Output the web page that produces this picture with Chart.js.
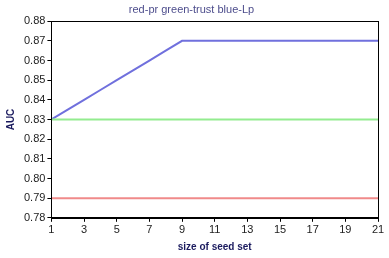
<!DOCTYPE html>
<html>
<head>
<meta charset="utf-8">
<script src="https://cdn.jsdelivr.net/npm/chart.js@4"></script>
<style>
  html, body { margin: 0; padding: 0; background: #fff; }
  #wrap { width: 389px; height: 258px; }
</style>
</head>
<body>
<div id="wrap"><canvas id="myChart" width="389" height="258"></canvas></div>
<script>
const seedSizes = [1,2,3,4,5,6,7,8,9,10,11,12,13,14,15,16,17,18,19,20,21];
const prValues = [0.79,0.79,0.79,0.79,0.79,0.79,0.79,0.79,0.79,0.79,0.79,0.79,0.79,0.79,0.79,0.79,0.79,0.79,0.79,0.79,0.79];
const trustValues = [0.83,0.83,0.83,0.83,0.83,0.83,0.83,0.83,0.83,0.83,0.83,0.83,0.83,0.83,0.83,0.83,0.83,0.83,0.83,0.83,0.83];
const lpValues = [0.830,0.835,0.840,0.845,0.850,0.855,0.860,0.865,0.870,0.870,0.870,0.870,0.870,0.870,0.870,0.870,0.870,0.870,0.870,0.870,0.870];
const xTicks = [1,3,5,7,9,11,13,15,17,19,21];
const yTicks = [0.78,0.79,0.80,0.81,0.82,0.83,0.84,0.85,0.86,0.87,0.88];

const toPoints = vals => seedSizes.map((x, i) => ({x: x, y: vals[i]}));

// black frame round the plot area
const boxPlugin = {
  id: 'box',
  afterDraw(chart) {
    const a = chart.chartArea;
    const c = chart.ctx;
    c.save();
    c.strokeStyle = '#000';
    c.lineWidth = 1;
    c.strokeRect(Math.round(a.left) + 0.5, Math.round(a.top) + 0.5, Math.round(a.right - a.left), Math.round(a.bottom - a.top));
    c.restore();
  }
};

const ctx = document.getElementById('myChart');
new Chart(ctx, {
  type: 'line',
  data: {
    datasets: [
      { label: 'pr', data: toPoints(prValues), borderColor: '#f08a8a', borderWidth: 2, pointRadius: 0, fill: false, tension: 0 },
      { label: 'trust', data: toPoints(trustValues), borderColor: '#93ec8f', borderWidth: 2, pointRadius: 0, fill: false, tension: 0 },
      { label: 'Lp', data: toPoints(lpValues), borderColor: '#7070dd', borderWidth: 2, pointRadius: 0, fill: false, tension: 0 }
    ]
  },
  options: {
    responsive: false,
    animation: false,
    layout: { padding: { left: 5, right: 11, top: 0, bottom: 3 } },
    plugins: {
      legend: { display: false },
      tooltip: { enabled: false },
      title: {
        display: true,
        text: 'red-pr green-trust blue-Lp',
        color: '#4d4d8c',
        font: { family: 'Liberation Sans, Arial', size: 11, weight: 'normal' },
        padding: { top: 3, bottom: 5 }
      }
    },
    scales: {
      x: {
        type: 'linear',
        min: 1, max: 21,
        afterBuildTicks: axis => { axis.ticks = xTicks.map(v => ({value: v})); },
        ticks: { color: '#222', font: { family: 'Liberation Sans, Arial', size: 11 }, padding: 2, maxRotation: 0 },
        grid: { drawOnChartArea: false, drawTicks: true, tickLength: 4, color: '#000' },
        border: { display: true, color: '#000' },
        title: { display: true, text: 'size of seed set', color: '#1a1a5e', font: { family: 'Liberation Sans, Arial', size: 10, weight: 'bold' }, padding: { top: 2, bottom: 2 } }
      },
      y: {
        type: 'linear',
        min: 0.78, max: 0.88,
        afterBuildTicks: axis => { axis.ticks = yTicks.map(v => ({value: v})); },
        ticks: { color: '#222', font: { family: 'Liberation Sans, Arial', size: 11 }, padding: 2, callback: v => v.toFixed(2) },
        grid: { drawOnChartArea: false, drawTicks: true, tickLength: 4, color: '#000' },
        border: { display: true, color: '#000' },
        title: { display: true, text: 'AUC', color: '#1a1a5e', font: { family: 'Liberation Sans, Arial', size: 10, weight: 'bold' }, padding: { top: 0, bottom: 5 } }
      }
    }
  },
  plugins: [boxPlugin]
});
</script>
</body>
</html>
